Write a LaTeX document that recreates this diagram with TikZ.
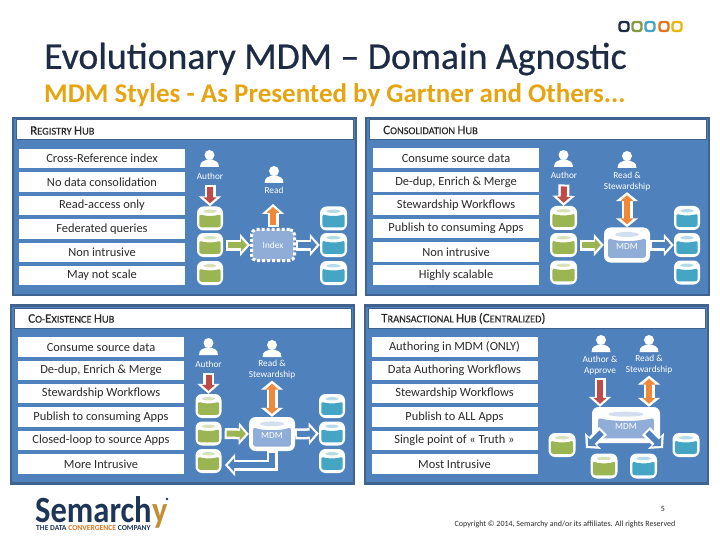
\documentclass[tikz,border=0pt]{standalone}
\usepackage{fontspec}
\usepackage{graphicx}
\setmainfont{Carlito}
\newfontface\titleface[FakeBold=0.6]{Carlito}
\newfontface\capface[FakeBold=0.3]{Carlito}
\usetikzlibrary{arrows.meta}
\definecolor{panelblue}{HTML}{4F81BD}
\definecolor{panelrim}{HTML}{3F628F}
\definecolor{inktext}{HTML}{2A2A2A}
\definecolor{titlenavy}{HTML}{1D2B45}
\definecolor{subgold}{HTML}{E5A512}
\definecolor{dbgreen}{HTML}{9BB552}
\definecolor{dbblue}{HTML}{45A5C4}
\definecolor{hubfill}{HTML}{8FADD6}
\definecolor{barred}{HTML}{BE4B48}
\definecolor{barorange}{HTML}{F0883A}
\definecolor{barblue}{HTML}{4F81BD}
\definecolor{logonavy}{HTML}{1D3557}
\definecolor{logoorange}{HTML}{E0761F}
\tikzset{
  hubpanel/.style={draw=panelrim,fill=panelblue,line width=2.5pt,inner sep=0pt},
  hubhead/.style={fill=white,draw=panelrim,line width=1pt,inner sep=0pt},
  hubname/.style={anchor=west,inner sep=0pt,text=inktext,font=\capface},
  itembox/.style={fill=white,inner sep=0pt,minimum width=166pt,minimum height=19.5pt,text=inktext,font=\fontsize{12.4}{12.4}\selectfont},
  smalltxt/.style={inner sep=0pt,text=white,align=center,font=\fontsize{9.3}{11}\selectfont},
  dbshell/.style={fill=white,rounded corners=6.5pt,inner sep=0pt},
  tipout/.style={-{Triangle[length=10pt,width=22pt]},line width=11pt,white},
  tipin/.style={-{Triangle[length=6pt,width=13pt]},line width=6pt,shorten >=3pt,shorten <=2pt},
  twotipout/.style={{Triangle[length=9pt,width=22pt]}-{Triangle[length=9pt,width=22pt]},line width=11pt,white},
  twotipin/.style={{Triangle[length=6pt,width=13pt]}-{Triangle[length=6pt,width=13pt]},line width=6pt,shorten >=3pt,shorten <=3pt},
  chip/.style={draw,rounded corners=2.5pt,line width=2.4pt,minimum size=9pt,inner sep=0pt,fill=white}
}
\newcommand{\hubcap}[2]{{\fontsize{13}{13}\selectfont #1}{\fontsize{10.4}{10.4}\selectfont #2}}
% cylinder: name, x, y, width, height, body colour
\newcommand{\dbcyl}[6]{
  \node[dbshell,minimum width=#4pt,minimum height=#5pt] (#1) at (#2,#3) {};
  \begin{scope}[shift={(#2,#3)},x=#4pt,y=-#5pt]
    \fill[#6!40!white] (0,-.30) ellipse [x radius=.26,y radius=.07];
    \fill[#6,rounded corners=2.5pt] (-.41,-.2) .. controls (-.2,-.09) and (.2,-.09) .. (.41,-.2) -- (.41,.37) -- (-.41,.37) -- cycle;
  \end{scope}
}
% person icon: name, x, y of the head
\newcommand{\userfig}[3]{
  \node[circle,fill=white,inner sep=0pt,minimum size=10pt] (#1) at (#2,#3) {};
  \fill[white,shift={(#2,#3)}] (-9.5,12) .. controls (-9.5,6) and (-5,6) .. (-2.5,4.5) -- (2.5,4.5) .. controls (5,6) and (9.5,6) .. (9.5,12) -- cycle;
}
% block arrows: inner colour, path
\newcommand{\onearrow}[2]{
  \draw[tipout] #2;
  \draw[tipin,#1] #2;
}
\newcommand{\twoarrow}[2]{
  \draw[twotipout] #2;
  \draw[twotipin,#1] #2;
}
\begin{document}
\begin{tikzpicture}[x=1pt,y=-1pt]
\useasboundingbox (0,0) rectangle (720,540);
% title
\node[anchor=west,inner sep=0pt,text=titlenavy,font=\titleface\fontsize{37.7}{38}\selectfont] (maintitle) at (44,59) {Evolutionary MDM – Domain Agnostic};
\node[anchor=west,inner sep=0pt,text=subgold,font=\bfseries\fontsize{27}{27}\selectfont] (subtitle) at (44,95) {MDM Styles - As Presented by Gartner and Others...};
\node[chip,draw=titlenavy] (chip1) at (624,26.5) {};
\node[chip,draw=dbgreen!85!black] (chip2) at (637,26.5) {};
\node[chip,draw=dbblue] (chip3) at (650,26.5) {};
\node[chip,draw=logoorange] (chip4) at (664,26.5) {};
\node[chip,draw=subgold!80!yellow] (chip5) at (677,26.5) {};

% registry
\node[hubpanel,minimum width=343pt,minimum height=177pt] (regpanel) at (184.5,206.5) {};
\node[hubhead,minimum width=337pt,minimum height=20pt] (reghead) at (184.5,130) {};
\node[hubname] (regname) at (30,130.5) {\hubcap{R}{EGISTRY} \hubcap{H}{UB}};
\node[itembox] (reg1) at (102,158.5) {Cross-Reference index};
\node[itembox] (reg2) at (102,182) {No data consolidation};
\node[itembox] (reg3) at (102,205.5) {Read-access only};
\node[itembox] (reg4) at (102,229) {Federated queries};
\node[itembox] (reg5) at (102,252.5) {Non intrusive};
\node[itembox] (reg6) at (102,275.5) {May not scale};
\userfig{regauthor}{209.5}{155};
\node[smalltxt] (regauthortxt) at (210,176) {Author};
\userfig{regread}{274}{171};
\node[smalltxt] (regreadtxt) at (274,190) {Read};
\dbcyl{regg1}{210}{218.5}{26}{24}{dbgreen}
\dbcyl{regg2}{210}{245}{26}{24}{dbgreen}
\dbcyl{regg3}{210}{273}{26}{24}{dbgreen}
\dbcyl{regb1}{333.5}{218.5}{27}{24}{dbblue}
\dbcyl{regb2}{333.5}{245}{27}{24}{dbblue}
\dbcyl{regb3}{333.5}{273}{27}{24}{dbblue}
\node[rounded corners=5pt,draw=white,fill=hubfill,line width=3pt,dash pattern=on 3pt off 2pt,minimum width=43pt,minimum height=31pt,inner sep=0pt,smalltxt] (regindex) at (273,245) {Index};
\onearrow{barred}{(regauthortxt) ++(0,9) -- (regg1.north)}
\onearrow{barorange}{(regindex.north) ++(0,-1) -- ++(0,-23)}
\onearrow{dbgreen}{(regg2.east) ++(3,0) -- (regindex.west)}
\onearrow{barblue}{(regindex.east) -- (regb2.west)}

% consolidation
\node[hubpanel,minimum width=343pt,minimum height=177pt] (conpanel) at (537.5,206.5) {};
\node[hubhead,minimum width=337pt,minimum height=20pt] (conhead) at (537.5,130) {};
\node[hubname] (conname) at (383,130) {\hubcap{C}{ONSOLIDATION} \hubcap{H}{UB}};
\node[itembox] (con1) at (456,158) {Consume source data};
\node[itembox] (con2) at (456,182) {De-dup, Enrich \& Merge};
\node[itembox] (con3) at (456,205) {Stewardship Workflows};
\node[itembox] (con4) at (456,228.5) {Publish to consuming Apps};
\node[itembox] (con5) at (456,252) {Non intrusive};
\node[itembox] (con6) at (456,275) {Highly scalable};
\userfig{conauthor}{563.5}{155};
\node[smalltxt] (conauthortxt) at (564,175.5) {Author};
\userfig{conread}{627}{156};
\node[smalltxt] (conreadtxt) at (627,181.5) {Read \&\\Stewardship};
\dbcyl{cong1}{563.5}{218}{27}{24}{dbgreen}
\dbcyl{cong2}{563.5}{245}{27}{24}{dbgreen}
\dbcyl{cong3}{563.5}{272.5}{27}{24}{dbgreen}
\dbcyl{conb1}{687}{218}{26}{24}{dbblue}
\dbcyl{conb2}{687}{245}{26}{24}{dbblue}
\dbcyl{conb3}{687}{272.5}{26}{24}{dbblue}
\dbcyl{conmdm}{627}{245}{46}{35}{hubfill}
\node[smalltxt] (conmdmtxt) at (627,247) {MDM};
\onearrow{barred}{(conauthortxt) ++(0,9) -- (cong1.north)}
\twoarrow{barorange}{(conreadtxt.south) ++(0,1) -- (conmdm.north)}
\onearrow{dbgreen}{(cong2.east) ++(3,0) -- (conmdm.west)}
\onearrow{barblue}{(conmdm.east) -- (conb2.west)}

% co-existence
\node[hubpanel,minimum width=343pt,minimum height=178pt] (coxpanel) at (182.5,394.5) {};
\node[hubhead,minimum width=337pt,minimum height=20pt] (coxhead) at (182.5,318) {};
\node[hubname] (coxname) at (28,318.5) {\hubcap{C}{O}-\hubcap{E}{XISTENCE} \hubcap{H}{UB}};
\node[itembox] (cox1) at (101,347) {Consume source data};
\node[itembox] (cox2) at (101,370.5) {De-dup, Enrich \& Merge};
\node[itembox] (cox3) at (101,393.5) {Stewardship Workflows};
\node[itembox] (cox4) at (101,417) {Publish to consuming Apps};
\node[itembox] (cox5) at (101,440.5) {Closed-loop to source Apps};
\node[itembox] (cox6) at (101,464) {More Intrusive};
\userfig{coxauthor}{208.5}{343};
\node[smalltxt] (coxauthortxt) at (208.5,364) {Author};
\userfig{coxread}{272}{345};
\node[smalltxt] (coxreadtxt) at (272,370) {Read \&\\Stewardship};
\dbcyl{coxg1}{208.5}{406}{26}{24}{dbgreen}
\dbcyl{coxg2}{208.5}{433.5}{26}{24}{dbgreen}
\dbcyl{coxg3}{208.5}{461}{26}{24}{dbgreen}
\dbcyl{coxb1}{332}{406}{26}{24}{dbblue}
\dbcyl{coxb2}{332}{433.5}{26}{24}{dbblue}
\dbcyl{coxb3}{332}{461}{26}{24}{dbblue}
\dbcyl{coxmdm}{272}{434}{46}{34}{hubfill}
\node[smalltxt] (coxmdmtxt) at (272,436) {MDM};
\coordinate (coxloop) at (272,465);
\coordinate (coxlooptip) at (225,465);
\onearrow{barred}{(coxauthortxt) ++(0,9) -- (coxg1.north)}
\twoarrow{barorange}{(coxreadtxt.south) ++(0,1) -- (coxmdm.north)}
\onearrow{dbgreen}{(coxg2.east) ++(3,0) -- (coxmdm.west)}
\onearrow{barblue}{(coxmdm.east) -- (coxb2.west)}
\onearrow{barblue}{(coxmdm.south) -- (coxloop) -- (coxlooptip)}

% transactional
\node[hubpanel,minimum width=343pt,minimum height=178pt] (trapanel) at (536.5,394.5) {};
\node[hubhead,minimum width=337pt,minimum height=20pt] (trahead) at (536.5,318) {};
\node[hubname] (traname) at (381,318.5) {\hubcap{T}{RANSACTIONAL} \hubcap{H}{UB} \hubcap{(C}{ENTRALIZED}\hubcap{)}{}};
\node[itembox] (tra1) at (454.5,347) {Authoring in MDM (ONLY)};
\node[itembox] (tra2) at (454.5,370.5) {Data Authoring Workflows};
\node[itembox] (tra3) at (454.5,393.5) {Stewardship Workflows};
\node[itembox] (tra4) at (454.5,417) {Publish to ALL Apps};
\node[itembox] (tra5) at (454.5,440.5) {Single point of « Truth »};
\node[itembox] (tra6) at (454.5,464) {Most Intrusive};
\userfig{traauthor}{601}{340};
\node[smalltxt] (traauthortxt) at (600,365.5) {Author \&\\Approve};
\userfig{traread}{649}{340};
\node[smalltxt] (trareadtxt) at (649,365) {Read \&\\Stewardship};
\dbcyl{trag1}{562}{445}{27}{24}{dbgreen}
\dbcyl{trag2}{604}{466}{27}{25}{dbgreen}
\dbcyl{trab1}{643.5}{466}{27}{25}{dbblue}
\dbcyl{trab2}{686}{445}{27}{24}{dbblue}
\dbcyl{tramdm}{626}{425}{68}{36}{hubfill}
\node[smalltxt] (tramdmtxt) at (626,427) {MDM};
\onearrow{barred}{(traauthortxt) ++(0,12) -- (tramdm.north -| traauthortxt)}
\twoarrow{barorange}{(trareadtxt.south) ++(0,1) -- (tramdm.north -| trareadtxt)}
\coordinate (traleft) at (603,431);
\coordinate (tralefttip) at (586,448);
\coordinate (traright) at (646,431);
\coordinate (trarighttip) at (663,448);
\onearrow{barblue}{(traleft) -- (tralefttip)}
\onearrow{barblue}{(traright) -- (trarighttip)}

% footer
\node[inner sep=0pt,text=inktext,font=\fontsize{8}{8}\selectfont] (pagenum) at (663,509) {5};
\node[inner sep=0pt,text=inktext,font=\fontsize{8}{8}\selectfont] (copyline) at (565,524) {Copyright © 2014, Semarchy and/or its affiliates. All rights Reserved};
\node[anchor=base west,inner sep=0pt,text=logonavy,font=\bfseries\fontsize{37}{37}\selectfont] (logoname) at (35,522) {\scalebox{.88}[1]{Semarch}};
\node[anchor=base west,inner sep=0pt,text=logoorange!60!dbgreen,font=\bfseries\fontsize{37}{37}\selectfont] (logoy) at (logoname.base east) {\scalebox{.88}[1]{y}};
\fill[logonavy] (167,499) circle [radius=1.3];
\node[anchor=west,inner sep=0pt,text=logonavy,font=\bfseries\fontsize{7.6}{7.6}\selectfont] (logotag) at (36,528) {THE DATA \textcolor{logoorange}{CONVERGENCE} COMPANY};
\end{tikzpicture}
\end{document}
